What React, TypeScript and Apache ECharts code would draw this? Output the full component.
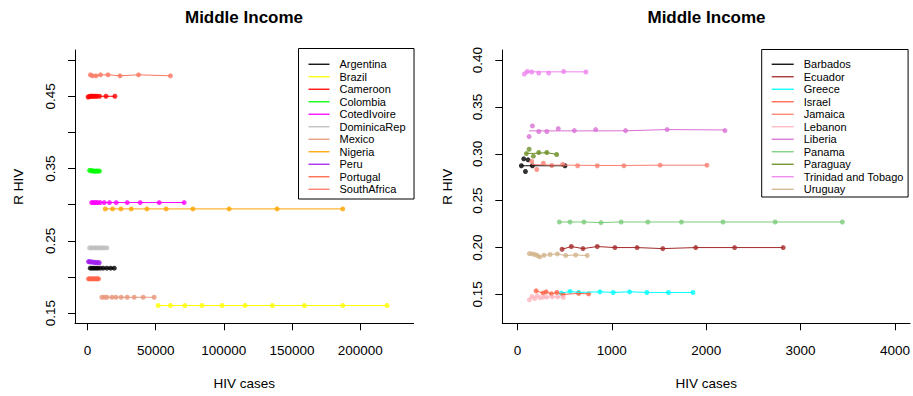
import React, { useEffect, useRef } from "react";
import * as echarts from "echarts";

const FONT = '"Liberation Sans", Arial, Helvetica, sans-serif';

// ---------- Left panel data ----------
const argentinaX = [2000, 3400, 4800, 6200, 7600, 9300, 11500, 14200, 16900, 19600];
const argentinaY = [0.2122, 0.2122, 0.2122, 0.2122, 0.2122, 0.2122, 0.2122, 0.2122, 0.2122, 0.2122];
const brazilX = [51800, 60800, 71400, 83900, 98700, 115600, 135600, 159100, 187200, 219700];
const brazilY = [0.1606, 0.1606, 0.1606, 0.1606, 0.1606, 0.1606, 0.1606, 0.1606, 0.1606, 0.1606];
const cameroonX = [400, 1200, 2000, 2900, 3800, 4800, 5900, 6900, 8800, 13500, 20100];
const cameroonY = [0.449, 0.4495, 0.45, 0.45, 0.45, 0.45, 0.45, 0.45, 0.45, 0.45, 0.45];
const colombiaX = [1500, 2500, 3500, 4500, 5500, 6500, 7600, 8800];
const colombiaY = [0.3475, 0.347, 0.347, 0.3465, 0.3465, 0.3465, 0.3465, 0.3465];
const cotedivoireX = [3000, 3960, 5130, 6380, 7620, 9310, 12240, 16130, 21040, 29100, 38630, 52560, 70880];
const cotedivoireY = [0.303, 0.303, 0.303, 0.303, 0.303, 0.303, 0.303, 0.303, 0.303, 0.303, 0.303, 0.303, 0.303];
const dominicaX = [1500, 3000, 4500, 6000, 7500, 9000, 10600, 12200, 14200];
const dominicaY = [0.2403, 0.2403, 0.2403, 0.2403, 0.2403, 0.2403, 0.2403, 0.2403, 0.2403];
const mexicoX = [10550, 12460, 14200, 17890, 20820, 24700, 29100, 34230, 40830, 48890];
const mexicoY = [0.172, 0.172, 0.172, 0.172, 0.172, 0.172, 0.172, 0.172, 0.172, 0.172];
const nigeriaX = [12970, 18330, 24480, 32040, 43540, 57690, 77260, 103870, 139050, 187220];
const nigeriaY = [0.2942, 0.2942, 0.2942, 0.2942, 0.2942, 0.2942, 0.2942, 0.2942, 0.2942, 0.2942];
const peruX = [700, 1500, 2400, 3300, 4300, 5300, 6400, 7500, 8600];
const peruY = [0.2213, 0.2211, 0.2209, 0.2207, 0.2205, 0.2203, 0.2201, 0.2199, 0.2197];
const portugalX = [700, 1500, 2400, 3300, 4300, 5300, 6300, 7200, 8100];
const portugalY = [0.1975, 0.1975, 0.1975, 0.1975, 0.1975, 0.1975, 0.1975, 0.1975, 0.1975];
const southafricaX = [2000, 3700, 6200, 9500, 15000, 23800, 37400, 60800];
const southafricaY = [0.4797, 0.4783, 0.4783, 0.4797, 0.4797, 0.4783, 0.4797, 0.4783];

// ---------- Right panel data ----------
const barbadosX = [42, 67, 85, 113, 159, 504];
const barbadosY = [0.2873, 0.2947, 0.2812, 0.2936, 0.2873, 0.2873];
const barbadosFit = [0.2873, 0.2873, 0.2873, 0.2873, 0.2873, 0.2873];
const ecuadorX = [473, 571, 695, 846, 1033, 1268, 1540, 1889, 2301, 2816];
const ecuadorY = [0.1982, 0.2011, 0.1989, 0.2011, 0.2, 0.2, 0.1989, 0.2, 0.2, 0.2];
const greeceX = [465, 557, 649, 874, 1015, 1188, 1371, 1600, 1860];
const greeceY = [0.1514, 0.1532, 0.1521, 0.1528, 0.1521, 0.1528, 0.1521, 0.1521, 0.1521];
const israelX = [198, 272, 304, 360, 417, 483, 649, 755];
const israelY = [0.1538, 0.1514, 0.1528, 0.1506, 0.1521, 0.15, 0.1511, 0.1506];
const jamaicaX = [152, 205, 275, 364, 480, 638, 846, 1128, 1512, 2008];
const jamaicaY = [0.2918, 0.2833, 0.29, 0.2876, 0.2886, 0.2873, 0.2873, 0.2873, 0.2879, 0.2879];
const jamaicaFit = [0.2885, 0.2885, 0.2882, 0.288, 0.288, 0.2878, 0.2876, 0.2876, 0.2879, 0.2879];
const lebanonX = [127, 155, 184, 211, 243, 275, 311, 370, 427, 486];
const lebanonY = [0.1443, 0.1479, 0.1457, 0.1485, 0.1464, 0.1471, 0.1471, 0.1474, 0.1474, 0.1468];
const liberiaX = [124, 159, 226, 311, 433, 603, 829, 1146, 1586, 2199];
const liberiaY = [0.3184, 0.3298, 0.3238, 0.3238, 0.3269, 0.3248, 0.3259, 0.3248, 0.3259, 0.3248];
const liberiaFit = [0.3245, 0.3245, 0.3245, 0.3245, 0.3245, 0.3245, 0.3245, 0.3246, 0.3259, 0.3255];
const panamaX = [444, 557, 705, 885, 1099, 1382, 1738, 2178, 2731, 3443];
const panamaY = [0.2273, 0.2273, 0.2273, 0.2266, 0.2273, 0.2273, 0.2273, 0.2273, 0.2273, 0.2273];
const paraguayX = [95, 124, 169, 226, 311, 416];
const paraguayY = [0.3003, 0.3049, 0.2975, 0.3014, 0.3014, 0.2993];
const paraguayFit = [0.3005, 0.3005, 0.3005, 0.3008, 0.3012, 0.2995];
const trinidadX = [74, 106, 152, 226, 332, 490, 726];
const trinidadY = [0.3852, 0.3879, 0.3873, 0.3862, 0.3862, 0.3879, 0.3873];
const trinidadFit = [0.3875, 0.3875, 0.3875, 0.3875, 0.3875, 0.3875, 0.3875];
const uruguayX = [127, 155, 184, 211, 237, 282, 346, 423, 512, 617, 740];
const uruguayY = [0.1936, 0.1932, 0.1926, 0.1915, 0.19, 0.1918, 0.1926, 0.1932, 0.1915, 0.1921, 0.1915];

// ---------- Axis ticks ----------
const leftXTicks = [0, 50000, 100000, 150000, 200000];
const leftYTicks = [0.15, 0.2, 0.25, 0.3, 0.35, 0.4, 0.45, 0.5];
const leftYLabels = [0.15, 0.25, 0.35, 0.45];
const rightXTicks = [0, 1000, 2000, 3000, 4000];
const rightYTicks = [0.15, 0.2, 0.25, 0.3, 0.35, 0.4];

type Country = { name: string; color: string; x: number[]; y: number[]; fit?: number[] };

const leftCountries: Country[] = [
  { name: "Argentina", color: "#000000", x: argentinaX, y: argentinaY },
  { name: "Brazil", color: "#FFFF00", x: brazilX, y: brazilY },
  { name: "Cameroon", color: "#FF0000", x: cameroonX, y: cameroonY },
  { name: "Colombia", color: "#00FF00", x: colombiaX, y: colombiaY },
  { name: "CotedIvoire", color: "#FF00FF", x: cotedivoireX, y: cotedivoireY },
  { name: "DominicaRep", color: "#BEBEBE", x: dominicaX, y: dominicaY },
  { name: "Mexico", color: "#E9967A", x: mexicoX, y: mexicoY },
  { name: "Nigeria", color: "#FFA500", x: nigeriaX, y: nigeriaY },
  { name: "Peru", color: "#A020F0", x: peruX, y: peruY },
  { name: "Portugal", color: "#FF6347", x: portugalX, y: portugalY },
  { name: "SouthAfrica", color: "#FA7862", x: southafricaX, y: southafricaY },
];

const rightCountries: Country[] = [
  { name: "Barbados", color: "#000000", x: barbadosX, y: barbadosY, fit: barbadosFit },
  { name: "Ecuador", color: "#A52A2A", x: ecuadorX, y: ecuadorY },
  { name: "Greece", color: "#00FFFF", x: greeceX, y: greeceY },
  { name: "Israel", color: "#FF6347", x: israelX, y: israelY },
  { name: "Jamaica", color: "#FA8072", x: jamaicaX, y: jamaicaY, fit: jamaicaFit },
  { name: "Lebanon", color: "#FFB6C1", x: lebanonX, y: lebanonY },
  { name: "Liberia", color: "#DA70D6", x: liberiaX, y: liberiaY, fit: liberiaFit },
  { name: "Panama", color: "#7CCD7C", x: panamaX, y: panamaY },
  { name: "Paraguay", color: "#6B8E23", x: paraguayX, y: paraguayY, fit: paraguayFit },
  { name: "Trinidad and Tobago", color: "#EE82EE", x: trinidadX, y: trinidadY, fit: trinidadFit },
  { name: "Uruguay", color: "#D2B48C", x: uruguayX, y: uruguayY },
];

function buildSeries(list: Country[], idx: number) {
  const out: any[] = [];
  list.forEach((c) => {
    const lineY = c.fit || c.y;
    out.push({
      type: "line",
      name: c.name,
      xAxisIndex: idx,
      yAxisIndex: idx,
      data: c.x.map((v, i) => [v, lineY[i]]),
      showSymbol: false,
      symbol: "none",
      color: c.color,
      lineStyle: { color: c.color, width: 1 },
      silent: true,
    });
    out.push({
      type: "scatter",
      name: c.name,
      xAxisIndex: idx,
      yAxisIndex: idx,
      data: c.x.map((v, i) => [v, c.y[i]]),
      symbol: "circle",
      symbolSize: 5,
      color: c.color,
      itemStyle: { color: c.color },
      silent: true,
    });
  });
  return out;
}

const axisText = { color: "#000", fontFamily: FONT, fontSize: 13.5 };

function xAxisOpt(idx: number, min: number, max: number, ticks: number[]) {
  return {
    type: "value",
    gridIndex: idx,
    min,
    max,
    axisLine: { show: true, onZero: false, lineStyle: { color: "#000", width: 1 } },
    axisTick: { show: true, length: 7, customValues: ticks, lineStyle: { color: "#000", width: 1 } },
    axisLabel: { ...axisText, margin: 20, customValues: ticks, formatter: (v: number) => String(v) },
    splitLine: { show: false },
    name: "HIV cases",
    nameLocation: "middle",
    nameGap: 53,
    nameTextStyle: { ...axisText },
  };
}

function yAxisOpt(idx: number, min: number, max: number, ticks: number[], labels: number[], gap: number) {
  return {
    type: "value",
    gridIndex: idx,
    min,
    max,
    axisLine: { show: true, onZero: false, lineStyle: { color: "#000", width: 1 } },
    axisTick: { show: true, length: 7, customValues: ticks, lineStyle: { color: "#000", width: 1 } },
    axisLabel: { ...axisText, margin: 18, rotate: 90, customValues: labels, formatter: (v: number) => v.toFixed(2) },
    splitLine: { show: false },
    name: "R HIV",
    nameLocation: "middle",
    nameGap: gap,
    nameRotate: 90,
    nameTextStyle: { ...axisText },
  };
}

function legendOpt(list: Country[], left: number, top: number, padding: number[], iconW: number) {
  return {
    orient: "vertical",
    left,
    top,
    padding,
    itemGap: 0,
    itemWidth: iconW,
    itemHeight: 1.3,
    icon: "rect",
    selectedMode: false,
    borderColor: "#000",
    borderWidth: 1,
    backgroundColor: "#fff",
    data: list.map((c) => c.name),
    textStyle: { color: "#000", fontFamily: FONT, fontSize: 11, lineHeight: 12.5, padding: [0, 0, 0, 5] },
  };
}

export default function App() {
  const ref = useRef<HTMLDivElement>(null);
  useEffect(() => {
    document.body.style.margin = "0";
    if (!ref.current) return;
    const chart = echarts.init(ref.current, null, { renderer: "svg" });
    chart.setOption({
      animation: false,
      backgroundColor: "#fff",
      grid: [
        { left: 75, right: 499.4, top: 50, bottom: 72.7 },
        { left: 502.3, right: 2.2, top: 50, bottom: 72.7 },
      ],
      xAxis: [xAxisOpt(0, -9200, 239200, leftXTicks), xAxisOpt(1, -160, 4160, rightXTicks)],
      yAxis: [
        yAxisOpt(0, 0.136, 0.514, leftYTicks, leftYLabels, 50),
        yAxisOpt(1, 0.1192, 0.4108, rightYTicks, rightYTicks, 48),
      ],
      legend: [
        legendOpt(leftCountries, 298.5, 48.5, [9.5, 8.5, 3.5, 10], 21),
        legendOpt(rightCountries, 761.7, 49.5, [8.5, 4.5, 1.5, 10], 22),
      ],
      graphic: [
        {
          type: "text",
          x: 244,
          y: 17,
          style: { text: "Middle Income", fill: "#000", font: `bold 17px ${FONT}`, align: "center", verticalAlign: "middle" },
        },
        {
          type: "text",
          x: 706.5,
          y: 17,
          style: { text: "Middle Income", fill: "#000", font: `bold 17px ${FONT}`, align: "center", verticalAlign: "middle" },
        },
      ],
      series: [...buildSeries(leftCountries, 0), ...buildSeries(rightCountries, 1)],
    });
    return () => chart.dispose();
  }, []);
  return <div ref={ref} style={{ width: 913, height: 396 }} />;
}
